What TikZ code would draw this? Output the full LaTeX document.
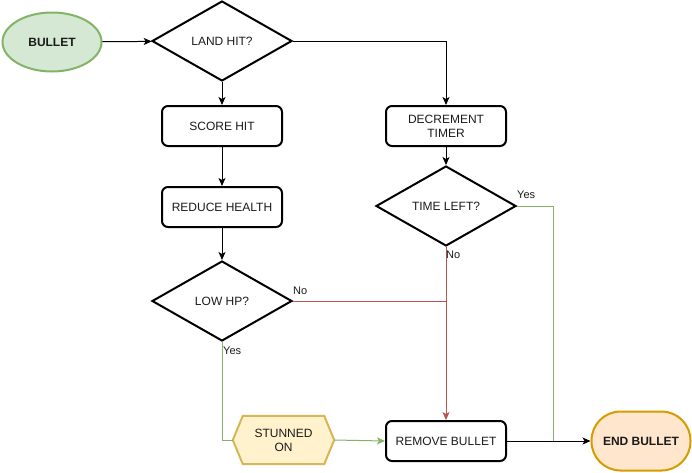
\documentclass[tikz,border=0pt]{standalone}
\usepackage{fontspec}
\setmainfont{Liberation Sans}
\usetikzlibrary{shapes.geometric,arrows.meta,positioning}
\pgfdeclarelayer{background}
\pgfsetlayers{background,main}
\definecolor{gfill}{HTML}{D5E8D4}
\definecolor{gline}{HTML}{82B366}
\definecolor{rline}{HTML}{B85450}
\definecolor{yfill}{HTML}{FFF2CC}
\definecolor{yline}{HTML}{D6B656}
\definecolor{ofill}{HTML}{FFE6CC}
\definecolor{oline}{HTML}{D79B00}
\definecolor{txt}{HTML}{1A1A1A}
\tikzset{
  x=1pt, y=-1pt,
  every node/.style={font=\fontsize{12}{14}\selectfont, text=txt, align=center, inner sep=0pt},
  procbox/.style={draw=black, line width=2pt, rounded corners=6pt, minimum width=120pt, minimum height=40pt},
  decision/.style={diamond, draw=black, line width=2pt, aspect=1.75, minimum width=140pt, minimum height=80pt},
  conn/.style={line width=1pt, -{Stealth[length=8pt,width=7pt,inset=2pt]}},
  plain/.style={line width=1pt},
  lbl/.style={font=\fontsize{11}{13}\selectfont, text=txt, anchor=west}
}
\begin{document}
\begin{tikzpicture}
\useasboundingbox (0,0) rectangle (692,472);
% nodes
\node[ellipse, draw=gline, fill=gfill, line width=2pt, minimum width=99pt, minimum height=59pt, font=\fontsize{12}{14}\selectfont\bfseries] (bullet) at (52,42) {BULLET};
\node[decision] (land) at (222,41) {LAND HIT?};
\node[procbox] (score) at (222,126) {SCORE HIT};
\node[procbox] (reduce) at (222,207) {REDUCE HEALTH};
\node[decision] (lowhp) at (222,301) {LOW HP?};
\node[procbox] (decr) at (446,126) {DECREMENT\\TIMER};
\node[decision] (tleft) at (446,206) {TIME LEFT?};
\node[procbox] (remove) at (446,441) {REMOVE BULLET};
\node[minimum width=101pt, minimum height=48pt] (stun) at (283.5,440) {STUNNED\\ON};
\begin{pgfonlayer}{background}
\draw[draw=yline, fill=yfill, line width=2pt, line join=miter]
  (stun.west) -- ([xshift=10pt]stun.north west) -- ([xshift=-10pt]stun.north east)
  -- (stun.east) -- ([xshift=-10pt]stun.south east) -- ([xshift=10pt]stun.south west) -- cycle;
\end{pgfonlayer}
\node[draw=oline, fill=ofill, line width=2pt, rounded corners=29pt, minimum width=99pt, minimum height=59pt, font=\fontsize{12}{14}\selectfont\bfseries] (endb) at (641,441) {END BULLET};
\coordinate (yesj) at (553,441);
\coordinate (noj) at (446,301);
% connectors
\draw[conn] (bullet) -- (land);
\draw[conn] (land.east) -| (decr.north);
\draw[conn] (land) -- (score);
\draw[conn] (score) -- (reduce);
\draw[conn] (reduce) -- (lowhp);
\draw[conn] (decr) -- (tleft);
\draw[conn, draw=rline, -{Stealth[length=8pt,width=7pt,inset=2pt,fill=rline]}] (tleft.south) -- (remove.north);
\draw[plain, draw=rline] (lowhp.east) -- (noj);
\draw[plain, draw=gline] (tleft.east) -| (yesj);
\draw[plain, draw=gline] (lowhp.south) |- (stun.west);
\draw[conn, draw=gline] (stun.east) -- (remove.west);
\draw[conn] (remove.east) -- (endb.west);
% labels
\node[lbl] at (446,255) {No};
\node[lbl] at (293,291) {No};
\node[lbl] at (517,195) {Yes};
\node[lbl] at (223,351) {Yes};
\end{tikzpicture}
\end{document}
